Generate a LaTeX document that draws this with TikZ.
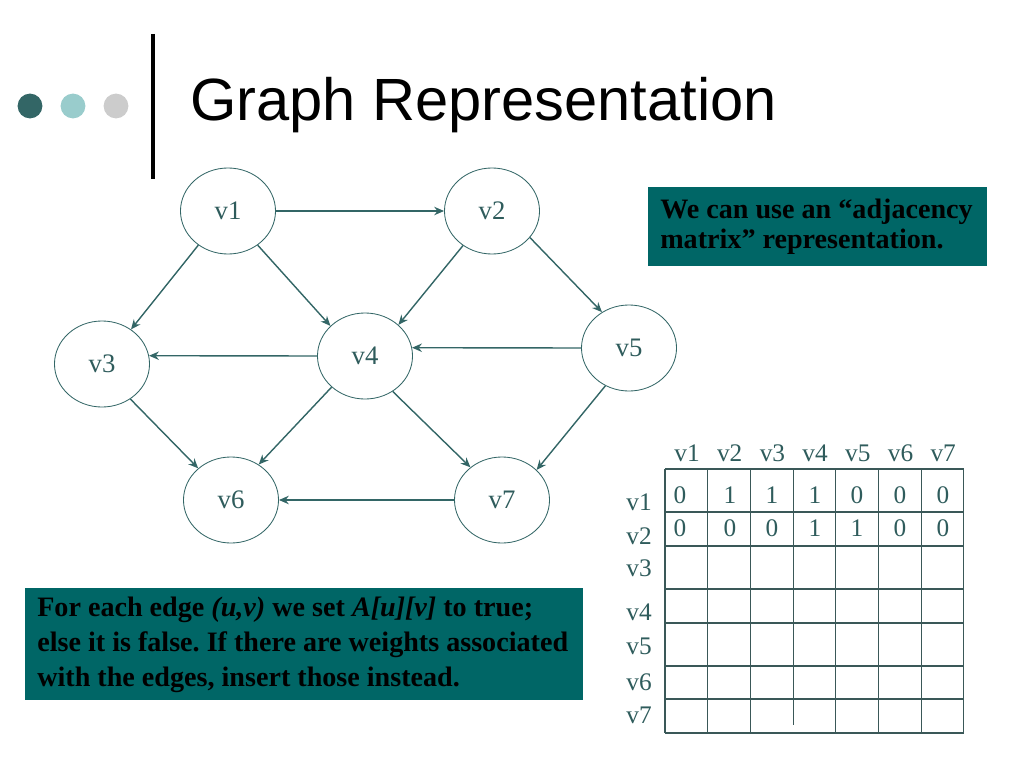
\documentclass[tikz,border=0pt]{standalone}
\usepackage{fontspec}
\setmainfont{Liberation Serif}
\newfontfamily\titlefont{Liberation Sans}
\usetikzlibrary{positioning}
\usetikzlibrary{arrows.meta}
\usetikzlibrary{shapes.geometric}
\frenchspacing

\definecolor{edgecol}{HTML}{336666}
\definecolor{labcol}{HTML}{2F5C5C}
\definecolor{gridcol}{HTML}{3A5858}
\definecolor{boxcol}{HTML}{006666}
\definecolor{dotA}{HTML}{336666}
\definecolor{dotB}{HTML}{99CCCC}
\definecolor{dotC}{HTML}{CCCCCC}

\begin{document}
\begin{tikzpicture}[x=0.025cm, y=-0.025cm,
	vert/.style={ellipse, draw=edgecol, line width=0.6pt, minimum width=2.375cm, minimum height=2.15cm, inner sep=0pt, text=labcol, font=\fontsize{19}{21}\selectfont},
	edge/.style={draw=edgecol, line width=1pt, -{Stealth[length=7pt, width=6pt]}},
	grid/.style={draw=gridcol, line width=0.8pt},
	cell/.style={text=labcol, inner sep=0pt, font=\fontsize{18}{20}\selectfont},
	note/.style={text=black, inner sep=0pt, anchor=west, align=left}]
			\useasboundingbox (0,0) rectangle (1024,768);

			% Title with the three dots and the bar
			\foreach \c [count=\i] in {dotA,dotB,dotC}
				{\fill[\c] ({30+43*(\i-1)},106) circle[radius=0.31cm];}
			\draw[line width=2.2pt] (153,34) -- (153,179);
			\node[anchor=base west, inner sep=0pt, font=\titlefont\fontsize{42.4}{48}\selectfont] (title) at (190,121) {Graph Representation};

			% The vertices of the graph
			\node[vert] (v1) at (228,211) {v1};
			\node[vert] (v2) at (492,211) {v2};
			\node[vert] (v3) at (102,364) {v3};
			\node[vert] (v4) at (365,356) {v4};
			\node[vert] (v5) at (629,348) {v5};
			\node[vert] (v6) at (231,500) {v6};
			\node[vert] (v7) at (502,500) {v7};

			\draw[edge] (v1.0) -- (v2.180);
			\draw[edge] (v1.229) -- (v3.50);
			\draw[edge] (v1.-49) -- (v4.139);
			\draw[edge] (v2.230) -- (v4.43);
			\draw[edge] (v2.-35) -- (v5.127);
			\draw[edge] (v5.180) -- (v4.10);
			\draw[edge] (v4.180) -- (v3.10);
			\draw[edge] (v3.-51) -- (v6.136);
			\draw[edge] (v4.223) -- (v6.52);
			\draw[edge] (v4.-52) -- (v7.134);
			\draw[edge] (v5.238) -- (v7.41);
			\draw[edge] (v7.180) -- (v6.0);

			% The two text boxes
			\fill[boxcol] (648,187) rectangle (987,266);
			\node[note, font=\bfseries\fontsize{20}{21.3}\selectfont] (adjbox) at (660,226.5)
				{We can use an “adjacency\\ matrix” representation.};
			\fill[boxcol] (25,588) rectangle (583,700);
			\node[note, font=\bfseries\fontsize{20}{24.9}\selectfont] (rulebox) at (37,645)
				{For each edge \textit{(u,v)} we set \textit{A[u][v]} to true;\\ else it is false. If there are weights associated\\ with the edges, insert those instead.};

			% The adjacency matrix
			\foreach \i in {0,1,2,4,5,6,7}
				{\draw[grid] ({665+42.7*\i},469) -- ({665+42.7*\i},733);}
			\draw[grid] ({665+42.7*3},469) -- ({665+42.7*3},725);
			\foreach \y in {469,512,546,589,623,666,699,733}
				{\draw[grid] (665,\y) -- (964,\y);}

			\foreach \i in {1,...,7}
				{\node[cell] (h\i) at ({687+42.7*(\i-1)},453) {v\i};}
			\foreach \y [count=\i] in {502,536,568,612,646,682,715}
				{\node[cell] (r\i) at (639,\y) {v\i};}
			\foreach \v/\x [count=\j] in {0/680,1/730,1/772,1/815,0/857,0/900,0/943}
				{\node[cell] (a\j) at (\x,495) {\v};}
			\foreach \v/\x [count=\j] in {0/680,0/730,0/772,1/815,1/857,0/900,0/943}
				{\node[cell] (b\j) at (\x,528) {\v};}
\end{tikzpicture}
\end{document}
